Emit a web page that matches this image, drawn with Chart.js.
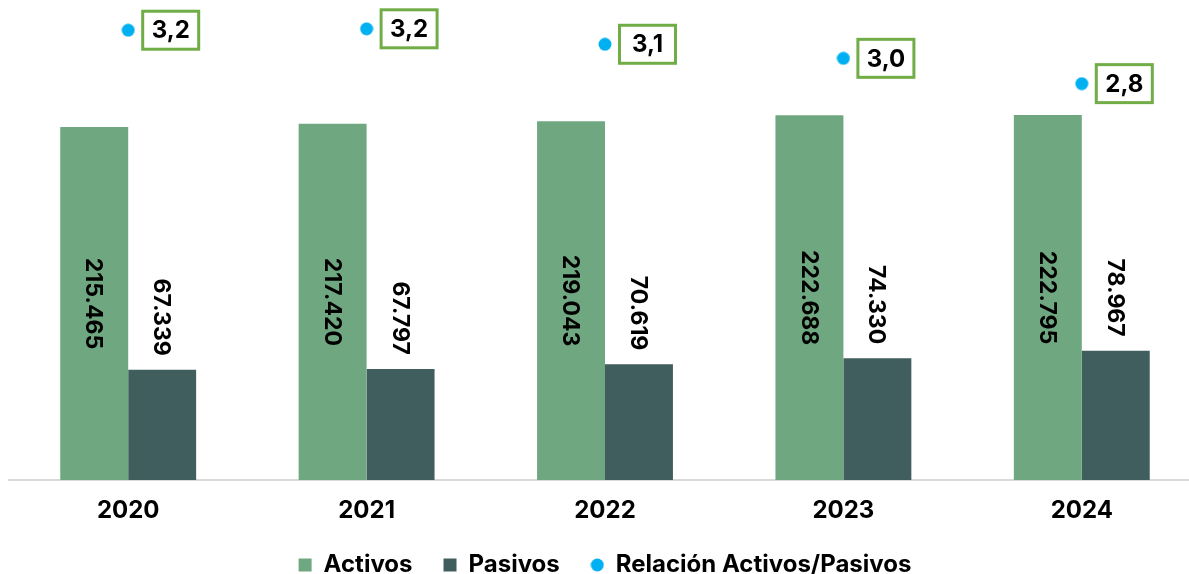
<!DOCTYPE html>
<html>
<head>
<meta charset="utf-8">
<script src="https://cdn.jsdelivr.net/npm/chart.js@4.4.1/dist/chart.umd.min.js"></script>
<style>
  html, body { margin: 0; padding: 0; background: #fff; overflow: hidden; }
  #wrap { width: 1202px; height: 574px; }
</style>
</head>
<body>
<div id="wrap"><canvas id="balanceChart"></canvas></div>
<script>
const years = ['2020', '2021', '2022', '2023', '2024'];
const activos = [215465, 217420, 219043, 222688, 222795];
const pasivos = [67339, 67797, 70619, 74330, 78967];
const relacion = [3.20, 3.21, 3.10, 3.00, 2.82];

const FONT = 'Inter, "Noto Sans", sans-serif';

function miles(v) {
    return String(v).replace(/\B(?=(\d{3})+(?!\d))/g, '.');
}

// etiquetas de valores (barras giradas y cajas verdes)
const valueLabels = {
    id: 'valueLabels',
    afterDatasetsDraw(chart) {
        const ctx = chart.ctx;
        ctx.save();
        ctx.fillStyle = '#000';
        ctx.font = 'bold 23px ' + FONT;
        ctx.textAlign = 'center';
        ctx.textBaseline = 'middle';
        [0, 1].forEach(di => {
            chart.getDatasetMeta(di).data.forEach((bar, i) => {
                const txt = miles(chart.data.datasets[di].data[i]);
                const w = ctx.measureText(txt).width;
                let cy;
                if (di === 0) cy = (bar.y + bar.base) / 2;
                else cy = bar.y - 14 - w / 2;
                ctx.save();
                ctx.translate(bar.x, cy);
                ctx.rotate(Math.PI / 2);
                ctx.fillText(txt, 0, 1);
                ctx.restore();
            });
        });
        // cajas de la relación
        ctx.font = 'bold 24px ' + FONT;
        chart.getDatasetMeta(2).data.forEach((pt, i) => {
            const txt = relacion[i].toFixed(1).replace('.', ',');
            const bx = pt.x + 14.5, by = pt.y - 19, bw = 56, bh = 38;
            ctx.fillStyle = '#fff';
            ctx.fillRect(bx, by, bw, bh);
            ctx.strokeStyle = '#70ad47';
            ctx.lineWidth = 3;
            ctx.strokeRect(bx, by, bw, bh);
            ctx.fillStyle = '#000';
            ctx.fillText(txt, bx + bw / 2, pt.y + 1);
        });
        ctx.restore();
    }
};

// leyenda más baja que lo que pide su padding
const legendHeight = {
    id: 'legendHeight',
    beforeLayout(chart) {
        const lg = chart.legend;
        if (lg && !lg._altoFijo) {
            const fit = lg.fit;
            lg.fit = function () { fit.call(this); this.height = 52; };
            lg._altoFijo = true;
        }
    }
};

// punto pequeño para la leyenda
const dotImg = document.createElement('canvas');
dotImg.width = 14; dotImg.height = 14;
const dctx = dotImg.getContext('2d');
dctx.fillStyle = '#00b0f0';
dctx.beginPath();
dctx.arc(7, 7, 6.5, 0, Math.PI * 2);
dctx.fill();

const ctx = document.getElementById('balanceChart').getContext('2d');
new Chart(ctx, {
    type: 'bar',
    data: {
        labels: years,
        datasets: [{
            label: 'Activos',
            data: activos,
            backgroundColor: '#6fa880',
            yAxisID: 'y',
            pointStyle: 'rect'
        }, {
            label: 'Pasivos',
            data: pasivos,
            backgroundColor: '#405e5d',
            yAxisID: 'y',
            pointStyle: 'rect'
        }, {
            type: 'line',
            label: 'Relación Activos/Pasivos',
            data: relacion,
            yAxisID: 'y2',
            showLine: false,
            pointRadius: 6.5,
            pointHoverRadius: 6.5,
            pointBackgroundColor: '#00b0f0',
            pointBorderWidth: 0,
            backgroundColor: '#00b0f0',
            borderColor: '#00b0f0',
            pointStyle: dotImg,
            clip: false
        }]
    },
    options: {
        responsive: true,
        maintainAspectRatio: false,
        animation: false,
        layout: { autoPadding: false, padding: { left: 9, right: 1, top: 0, bottom: 0 } },
        datasets: {
            bar: { categoryPercentage: 0.57, barPercentage: 1 }
        },
        scales: {
            x: {
                grid: { display: false, drawTicks: false },
                border: { color: '#d9d9d9', width: 2 },
                ticks: {
                    color: '#000',
                    font: { family: FONT, size: 24, weight: 'bold', lineHeight: 0.8 },
                    padding: 21
                },
                afterFit(scale) { scale.height = 42; }
            },
            y: { display: false, min: 0, max: 293000 },
            y2: { display: false, min: 0, max: 3.415 }
        },
        plugins: {
            tooltip: { enabled: false },
            legend: {
                position: 'bottom',
                labels: {
                    color: '#000',
                    font: { family: FONT, size: 24, weight: 'bold' },
                    usePointStyle: true,
                    boxWidth: 13,
                    boxHeight: 13,
                    padding: 31
                }
            }
        }
    },
    plugins: [valueLabels, legendHeight]
});
</script>
</body>
</html>
